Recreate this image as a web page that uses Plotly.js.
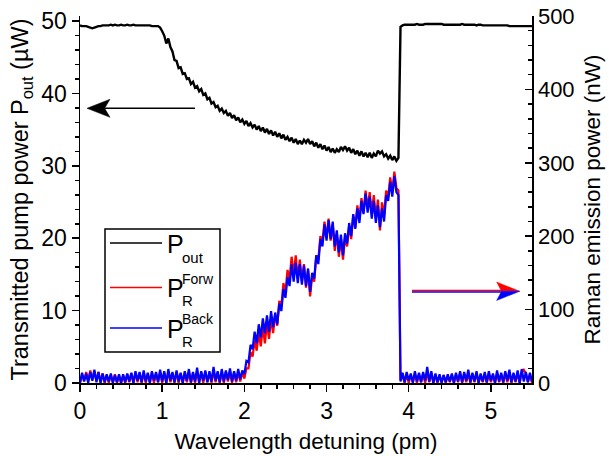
<!DOCTYPE html>
<html>
<head>
<meta charset="utf-8">
<script src="https://cdn.plot.ly/plotly-3.0.1.min.js"></script>
<style>html,body{margin:0;padding:0;background:#fff;}#chart{width:609px;height:456px;}</style>
</head>
<body>
<div id="chart"></div>
<script>
// Wavelength detuning sampling (pm)
const X_START = 0;
const X_STEP = 0.025;

// Transmitted pump power P_out (µW), left axis
const pOut = [
49.4,49.3,49.3,49.3,49.2,49.1,49.0,49.1,49.2,49.3,
49.3,49.4,49.4,49.4,49.4,49.5,49.4,49.5,49.4,49.4,
49.5,49.4,49.4,49.5,49.4,49.4,49.5,49.4,49.4,49.4,
49.4,49.4,49.4,49.4,49.4,49.3,49.3,49.3,49.3,49.1,
48.6,48.0,46.9,47.6,46.4,45.8,44.6,44.5,43.5,43.6,
42.7,42.8,42.0,42.1,41.3,41.6,40.8,41.0,40.3,40.6,
39.8,40.0,39.2,39.4,38.6,38.8,38.1,38.3,37.6,37.9,
37.3,37.6,36.9,37.3,36.6,37.0,36.3,36.7,36.0,36.4,
35.8,36.2,35.5,35.9,35.3,35.7,35.0,35.5,34.8,35.3,
34.6,35.1,34.4,34.9,34.2,34.7,34.0,34.5,33.8,34.3,
33.6,34.0,33.4,33.9,33.2,33.7,33.0,33.5,33.0,33.6,
33.2,33.7,33.0,33.4,32.7,33.2,32.5,33.0,32.3,32.8,
32.1,32.6,31.9,32.4,31.8,32.3,31.9,32.6,32.2,32.7,
32.1,32.5,31.8,32.3,31.6,32.1,31.4,32.0,31.3,31.8,
31.2,31.8,31.1,31.7,31.3,32.1,31.7,32.0,31.3,31.6,
31.0,31.4,30.8,31.3,30.7,31.1,49.2,49.4,49.5,49.5,
49.5,49.5,49.5,49.5,49.6,49.5,49.5,49.5,49.6,49.6,
49.6,49.6,49.6,49.6,49.6,49.6,49.6,49.5,49.5,49.5,
49.5,49.5,49.5,49.5,49.5,49.5,49.6,49.5,49.5,49.5,
49.5,49.5,49.5,49.4,49.5,49.5,49.4,49.4,49.4,49.4,
49.4,49.4,49.4,49.4,49.4,49.4,49.4,49.4,49.4,49.3,
49.3,49.3,49.3,49.3,49.3,49.3,49.3,49.3,49.3,49.3,
49.3
];

// Forward Raman emission power (nW), right axis
const pRForw = [
0,12,3,15,4,17,5,16,3,15,
1,13,0,11,0,11,1,12,0,10,
0,10,0,12,1,13,0,14,1,13,
0,14,0,13,1,14,0,13,1,15,
0,14,0,15,1,13,0,15,0,13,
0,14,1,15,0,13,0,16,1,14,
0,15,1,14,0,17,1,14,0,15,
0,15,2,16,0,14,1,15,2,15,
6,20,20,42,36,58,44,68,50,76,
54,82,60,88,68,94,78,112,104,136,
124,154,142,172,148,174,142,168,138,162,
130,154,118,146,138,174,168,200,192,220,
198,224,194,216,180,204,172,196,168,198,
186,214,196,228,212,242,222,252,232,262,
238,260,232,256,224,250,208,246,228,262,
254,280,260,288,266,262,4,10,0,12,
0,11,1,13,0,12,1,12,0,15,
1,13,0,11,0,10,1,11,0,10,
1,11,0,12,1,13,0,12,1,14,
0,12,1,13,0,11,1,12,0,13,
1,11,0,13,1,12,0,13,1,14,
0,12,1,13,0,15,18,13,1,12,
0
];

// Backward Raman emission power (nW), right axis
const pRBack = [
0,14,2,13,0,15,3,18,1,15,
0,13,1,12,2,13,0,11,1,12,
0,12,1,13,2,14,0,16,3,15,
1,17,2,14,0,16,3,15,1,18,
2,16,0,19,3,15,1,17,2,14,
0,16,3,19,1,15,2,21,0,16,
3,17,1,16,2,22,3,16,1,19,
2,17,4,20,2,16,3,19,5,17,
12,30,28,52,46,70,54,80,62,88,
68,92,70,98,76,96,80,108,98,128,
116,144,132,162,138,164,136,162,134,160,
132,156,124,150,142,174,162,196,186,216,
194,222,196,220,186,208,178,202,174,204,
190,218,200,230,210,238,218,248,230,258,
232,254,224,248,218,242,212,238,220,256,
248,274,254,282,260,256,2,14,1,15,
3,13,0,16,2,14,1,15,3,22,
2,16,0,13,1,12,0,11,1,12,
2,13,0,14,2,16,1,15,3,18,
1,14,2,16,0,13,2,15,1,16,
3,13,0,17,2,14,1,16,3,18,
1,14,2,17,0,19,2,15,1,14,
2
];

// Legend labels: base symbol, subscript, superscript
const legendBase = ['P', 'P', 'P'];
const legendSub = ['out', 'R', 'R'];
const legendSup = ['', 'Forw', 'Back'];
const seriesNames = ['P_out', 'P_R^Forw', 'P_R^Back'];
const seriesColors = ['#000000', '#ff0000', '#0000ff'];

const FONT = 'Liberation Sans, Arial, Helvetica, sans-serif';

const traces = [
  {y: pOut, x0: X_START, dx: X_STEP, type: 'scatter', mode: 'lines', name: seriesNames[0],
   line: {color: seriesColors[0], width: 2.4, simplify: false}, yaxis: 'y'},
  {y: pRForw, x0: X_START, dx: X_STEP, type: 'scatter', mode: 'lines', name: seriesNames[1],
   line: {color: seriesColors[1], width: 2.2, simplify: false}, yaxis: 'y2'},
  {y: pRBack, x0: X_START, dx: X_STEP, type: 'scatter', mode: 'lines', name: seriesNames[2],
   line: {color: seriesColors[2], width: 2.2, simplify: false}, yaxis: 'y2'}
];

const axisCommon = {
  showline: true, linecolor: '#000', linewidth: 1.5,
  showgrid: false, zeroline: false,
  ticks: 'outside', ticklen: 7, tickwidth: 1.5, tickcolor: '#000',
  tickfont: {family: FONT, size: 23, color: '#000'}
};

// ---- hand-built legend box (stacked sub/superscripts) ----
const PX = v => (v - 80) / 452;      // pixel -> paper x
const PY = v => (383 - v) / 367;     // pixel -> paper y
const legRows = [243, 287.5, 328];
const shapes = [
  {type: 'rect', xref: 'paper', yref: 'paper', x0: PX(105), x1: PX(220), y0: PY(352), y1: PY(229),
   fillcolor: '#fff', line: {color: '#000', width: 1.5}, layer: 'above'}
];
const annotations = [];
legRows.forEach((py, i) => {
  shapes.push({type: 'line', xref: 'paper', yref: 'paper', x0: PX(110), x1: PX(162), y0: PY(py), y1: PY(py),
    line: {color: seriesColors[i], width: 1.5}, layer: 'above'});
  annotations.push({xref: 'paper', yref: 'paper', x: PX(165), y: PY(py + 1), xanchor: 'left', yanchor: 'middle',
    text: legendBase[i], showarrow: false, font: {family: FONT, size: 25, color: '#000'}});
  if (legendSup[i]) {
    annotations.push({xref: 'paper', yref: 'paper', x: PX(180), y: PY(py - 9), xanchor: 'left', yanchor: 'middle',
      text: legendSup[i], showarrow: false, font: {family: FONT, size: 14, color: '#000'}});
    annotations.push({xref: 'paper', yref: 'paper', x: PX(180), y: PY(py + 13), xanchor: 'left', yanchor: 'middle',
      text: legendSub[i], showarrow: false, font: {family: FONT, size: 15, color: '#000'}});
  } else {
    annotations.push({xref: 'paper', yref: 'paper', x: PX(180), y: PY(py + 14), xanchor: 'left', yanchor: 'middle',
      text: legendSub[i], showarrow: false, font: {family: FONT, size: 15, color: '#000'}});
  }
});

// arrows pointing to the axis each curve belongs to
shapes.push(
  {type: 'line', xref: 'x', yref: 'y', x0: 0.30, x1: 1.40, y0: 37.95, y1: 37.95, line: {color: '#000', width: 1.5}},
  {type: 'path', xref: 'x', yref: 'y', path: 'M0.085,37.95 L0.365,39.2 L0.30,37.95 L0.365,36.7 Z', fillcolor: '#000', line: {color: '#000', width: 0.5}},
  {type: 'line', xref: 'x', yref: 'y2', x0: 4.04, x1: 5.14, y0: 126, y1: 126, line: {color: '#ff0000', width: 1.5}},
  {type: 'line', xref: 'x', yref: 'y2', x0: 4.04, x1: 5.14, y0: 124, y1: 124, line: {color: '#0000ff', width: 1.5}},
  {type: 'path', xref: 'x', yref: 'y2', path: 'M5.35,125 L5.07,137.5 L5.13,125 Z', fillcolor: '#ff0000', line: {color: '#ff0000', width: 0.5}},
  {type: 'path', xref: 'x', yref: 'y2', path: 'M5.35,125 L5.07,112.5 L5.13,125 Z', fillcolor: '#0000ff', line: {color: '#0000ff', width: 0.5}}
);

const layout = {
  width: 609, height: 456,
  margin: {l: 80, r: 77, t: 16, b: 73, pad: 0},
  paper_bgcolor: '#fff', plot_bgcolor: '#fff',
  font: {family: FONT, color: '#000'},
  showlegend: false,
  xaxis: Object.assign({}, axisCommon, {
    range: [0, 5.5], dtick: 1, tick0: 0,
    minor: {dtick: 0.2, ticklen: 4, tickwidth: 1.5, tickcolor: '#000', ticks: 'outside'},
    title: {text: 'Wavelength detuning (pm)', font: {family: FONT, size: 22.5, color: '#000'}, standoff: 10}
  }),
  yaxis: Object.assign({}, axisCommon, {
    range: [0, 50.7], dtick: 10, tick0: 0,
    minor: {dtick: 2, ticklen: 4, tickwidth: 1.5, tickcolor: '#000', ticks: 'outside'},
    title: {text: 'Transmitted pump power P<sub>out</sub> (µW)', font: {family: FONT, size: 23.5, color: '#000'}, standoff: 6}
  }),
  yaxis2: Object.assign({}, axisCommon, {
    overlaying: 'y', side: 'right', anchor: 'x',
    range: [0, 500], dtick: 100, tick0: 0,
    ticks: 'inside',
    tickfont: {family: FONT, size: 22, color: '#000'},
    minor: {dtick: 20, ticklen: 4, tickwidth: 1.5, tickcolor: '#000', ticks: 'inside'},
    title: {text: 'Raman emission power (nW)', font: {family: FONT, size: 22.5, color: '#000'}, standoff: 10}
  }),
  shapes: shapes,
  annotations: annotations
};

Plotly.newPlot('chart', traces, layout, {staticPlot: true, displayModeBar: false});
</script>
</body>
</html>
